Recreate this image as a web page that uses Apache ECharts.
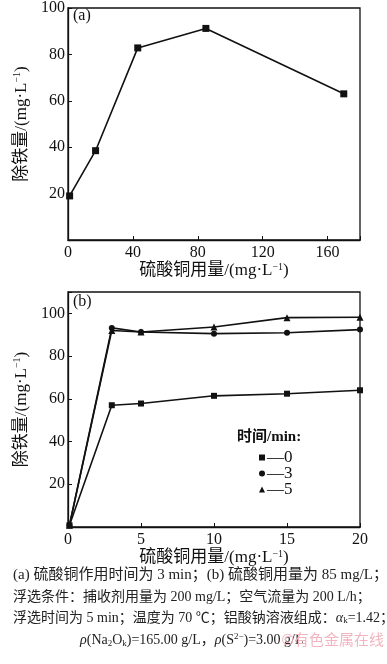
<!DOCTYPE html>
<html><head><meta charset="utf-8">
<script src="https://cdn.jsdelivr.net/npm/echarts@6/dist/echarts.min.js"></script>
<style>html,body{margin:0;padding:0;background:#fff}#c{width:387px;height:664px}</style>
</head><body><div id="c"></div>
<script>
// Panel (a)
const aX = [1, 17, 43, 85, 170];
const aY = [19, 38.5, 82.8, 91.2, 63];
const aXTicks = [0, 40, 80, 120, 160];
// Panel (b)
const bX = [0.1, 3, 5, 10, 15, 20];
const b0 = [0.8, 57, 57.8, 61.4, 62.4, 64];
const b3 = [0.8, 93.2, 91.3, 90.5, 90.9, 92.4];
const b5 = [0.8, 92.0, 91.3, 93.6, 98, 98.2];
const bXTicks = [0, 5, 10, 15, 20];
const legendNames = ['—0', '—3', '—5'];
const yTicks = [20, 40, 60, 80, 100];

const SERIF = '"Liberation Serif","Times New Roman","Noto Sans CJK SC",serif';
const black = '#111';
const chart = echarts.init(document.getElementById('c'));

function pairs(xs, ys){ return xs.map((x,i)=>[x, ys[i]]); }

const nameRich = {sup:{fontSize:10, verticalAlign:'top', padding:[0,0,8,0], fontFamily:SERIF, color:black}};
function xAxisCfg(gi, max, interval, ticks){
  return {gridIndex:gi, type:'value', min:0, max:max, interval:interval,
    axisLine:{onZero:false, lineStyle:{color:black, width:1.3}},
    axisTick:{inside:true, length:4, lineStyle:{color:black}},
    axisLabel:{color:black, fontFamily:SERIF, fontSize:16, margin:5,
      formatter:v=> ticks.indexOf(v)>=0 ? String(v) : ''},
    splitLine:{show:false},
    name:'硫酸铜用量/(mg·L{sup|−1})', nameLocation:'middle', nameGap:21,
    nameTextStyle:{color:black, fontFamily:SERIF, fontSize:17, rich:nameRich}};
}
function yAxisCfg(gi, max){
  return {gridIndex:gi, type:'value', min:0, max:max, interval:20,
    axisLine:{lineStyle:{color:black, width:1.3}},
    axisTick:{inside:true, length:4, lineStyle:{color:black}},
    axisLabel:{color:black, fontFamily:SERIF, fontSize:16, margin:3,
      formatter:v=> yTicks.indexOf(v)>=0 ? String(v) : ''},
    splitLine:{show:false},
    name:'除铁量/(mg·L{sup|−1})', nameLocation:'middle', nameGap:27, nameRotate:90,
    nameTextStyle:{color:black, fontFamily:SERIF, fontSize:17, rich:nameRich}};
}
const lineStyle = {color:black, width:1.6};
const itemStyle = {color:black};
const capFont = '14px '+SERIF;
const capFill = '#222';

chart.setOption({
  animation:false,
  grid:[
    {left:68, top:6, width:292, height:234, show:true, borderColor:black, borderWidth:1.3},
    {left:68, top:292, width:292, height:235, show:true, borderColor:black, borderWidth:1.3}
  ],
  xAxis:[xAxisCfg(0,180,40,aXTicks), xAxisCfg(1,20,5,bXTicks)],
  yAxis:[yAxisCfg(0,100), yAxisCfg(1,110)],
  legend:{orient:'vertical', left:254, top:444, itemGap:-1, itemWidth:6, itemHeight:6,
    textStyle:{color:black, fontFamily:SERIF, fontSize:17, padding:[0,0,0,-3]},
    data:[{name:legendNames[0], icon:'rect'},{name:legendNames[1], icon:'circle'},{name:legendNames[2], icon:'triangle'}]},
  series:[
    {type:'line', xAxisIndex:0, yAxisIndex:0, data:pairs(aX,aY), symbol:'rect', symbolSize:7,
      lineStyle, itemStyle},
    {name:legendNames[0], type:'line', xAxisIndex:1, yAxisIndex:1, data:pairs(bX,b0), symbol:'rect', symbolSize:6, lineStyle, itemStyle},
    {name:legendNames[1], type:'line', xAxisIndex:1, yAxisIndex:1, data:pairs(bX,b3), symbol:'circle', symbolSize:6, lineStyle, itemStyle},
    {name:legendNames[2], type:'line', xAxisIndex:1, yAxisIndex:1, data:pairs(bX,b5), symbol:'triangle', symbolSize:7, lineStyle, itemStyle}
  ],
  graphic:[
    {type:'text', left:73, top:8, style:{text:'(a)', font:'16px '+SERIF, fill:black}},
    {type:'text', left:73, top:294, style:{text:'(b)', font:'16px '+SERIF, fill:black}},
    {type:'text', left:237, top:430, style:{text:'时间/min:', font:'bold 15px '+SERIF, fill:black}},
    {type:'text', left:13, top:568, style:{text:'(a) 硫酸铜作用时间为 3 min；(b) 硫酸铜用量为 85 mg/L；', font:'15px '+SERIF, fill:capFill}},
    {type:'text', left:13, top:590, style:{text:'浮选条件：捕收剂用量为 200 mg/L；空气流量为 200 L/h；', font:capFont, fill:capFill}},
    {type:'text', left:13, top:611, style:{text:'浮选时间为 5 min；温度为 70 ℃；铝酸钠溶液组成：{it|α}{sub|k}=1.42；', font:capFont, fill:capFill,
      rich:{it:{fontStyle:'italic', fontSize:14, fontFamily:SERIF}, sub:{fontSize:9, padding:[6,0,0,0], fontFamily:SERIF}}}},
    {type:'text', left:80, top:632, style:{text:'{it|ρ}(Na{sub|2}O{sub|k})=165.00 g/L，{it|ρ}(S{sup|2−})=3.00 g/L', font:capFont, fill:capFill,
      rich:{it:{fontStyle:'italic', fontSize:14, fontFamily:SERIF}, sub:{fontSize:9, padding:[7,0,0,0], fontFamily:SERIF}, sup:{fontSize:9, padding:[0,0,7,0], fontFamily:SERIF}}}},
    {type:'text', right:3, top:632, style:{text:'©有色金属在线', font:'15px "Noto Sans CJK SC",sans-serif', fill:'#f2b5bf'}}
  ]
});
</script></body></html>
